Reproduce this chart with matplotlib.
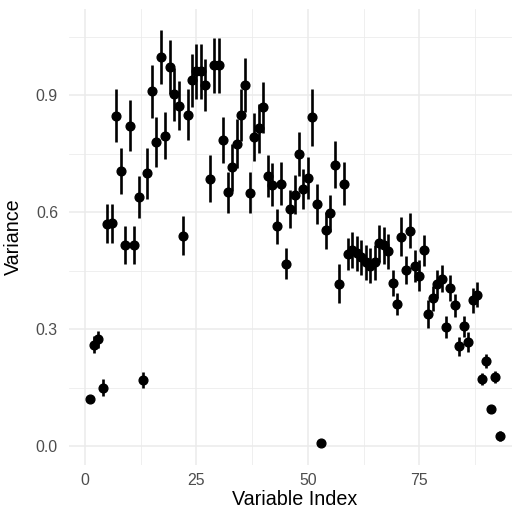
import numpy as np
import matplotlib
matplotlib.use("Agg")
import matplotlib.pyplot as plt
from matplotlib.ticker import MultipleLocator

# ── Data: per-variable variance estimates and their error half-widths ────────
variance = [
    0.121, 0.260, 0.274, 0.150, 0.570, 0.572, 0.848, 0.706, 0.515, 0.822,
    0.516, 0.639, 0.170, 0.700, 0.910, 0.780, 0.998, 0.796, 0.972, 0.902,
    0.873, 0.540, 0.850, 0.939, 0.961, 0.961, 0.927, 0.686, 0.977, 0.977,
    0.785, 0.651, 0.715, 0.776, 0.849, 0.926, 0.650, 0.793, 0.815, 0.869,
    0.693, 0.671, 0.564, 0.673, 0.468, 0.609, 0.645, 0.749, 0.660, 0.688,
    0.843, 0.621, 0.008, 0.554, 0.597, 0.722, 0.417, 0.673, 0.493, 0.503,
    0.495, 0.485, 0.472, 0.463, 0.472, 0.520, 0.515, 0.500, 0.418, 0.364,
    0.537, 0.452, 0.553, 0.462, 0.437, 0.502, 0.339, 0.379, 0.416, 0.430,
    0.305, 0.406, 0.361, 0.256, 0.307, 0.267, 0.374, 0.389, 0.172, 0.219,
    0.096, 0.177, 0.026,
]
half_width = [
    0.008, 0.022, 0.022, 0.022, 0.050, 0.050, 0.068, 0.059, 0.049, 0.065,
    0.048, 0.054, 0.020, 0.065, 0.068, 0.063, 0.070, 0.060, 0.070, 0.067,
    0.063, 0.050, 0.066, 0.068, 0.070, 0.070, 0.067, 0.060, 0.070, 0.070,
    0.060, 0.053, 0.060, 0.063, 0.066, 0.070, 0.052, 0.061, 0.062, 0.065,
    0.055, 0.055, 0.045, 0.055, 0.040, 0.049, 0.050, 0.057, 0.052, 0.054,
    0.072, 0.051, 0.003, 0.047, 0.047, 0.061, 0.049, 0.055, 0.042, 0.047,
    0.045, 0.045, 0.045, 0.045, 0.045, 0.047, 0.047, 0.045, 0.034, 0.028,
    0.050, 0.035, 0.045, 0.040, 0.040, 0.040, 0.036, 0.032, 0.035, 0.035,
    0.028, 0.033, 0.030, 0.025, 0.028, 0.025, 0.032, 0.033, 0.015, 0.018,
    0.010, 0.015, 0.012,
]
index = np.arange(1, len(variance) + 1)

x_ticks = [0, 25, 50, 75]
y_ticks = [0.0, 0.3, 0.6, 0.9]

# ── Figure ────────────────────────────────────────────────────────────────────
plt.rcParams["font.family"] = ["Liberation Sans", "DejaVu Sans"]

W, H = 512, 517
fig = plt.figure(figsize=(W / 100, H / 100), dpi=100)
fig.patch.set_facecolor("white")

left, right, top, bottom = 69, 520, 9, 465
ax = fig.add_axes([left / W, (H - bottom) / H, (right - left) / W, (bottom - top) / H])
ax.set_facecolor("white")

ax.errorbar(index, variance, yerr=half_width, fmt="o", color="black",
            ms=6.3, elinewidth=1.9, capsize=0, zorder=3)

# Range padded the way ggplot expands a continuous scale
lo = min(v - e for v, e in zip(variance, half_width))
hi = max(v + e for v, e in zip(variance, half_width))
pad_y = 0.05 * (hi - lo)
pad_x = 0.05 * (index.max() - index.min())
ax.set_xlim(index.min() - pad_x, index.max() + pad_x)
ax.set_ylim(lo - pad_y, hi + pad_y)

ax.set_xticks(x_ticks)
ax.set_yticks(y_ticks)
ax.set_yticklabels([f"{t:.1f}" for t in y_ticks])
ax.xaxis.set_minor_locator(MultipleLocator(12.5))
ax.yaxis.set_minor_locator(MultipleLocator(0.15))

ax.grid(which="major", color="#EBEBEB", linewidth=1.1, zorder=0)
ax.grid(which="minor", color="#EBEBEB", linewidth=0.55, zorder=0)
ax.set_axisbelow(True)
for s in ax.spines.values():
    s.set_visible(False)

ax.tick_params(which="both", length=0)
ax.tick_params(axis="x", labelsize=11.4, labelcolor="#4D4D4D", pad=6)
ax.tick_params(axis="y", labelsize=11.4, labelcolor="#4D4D4D", pad=8)

ax.set_xlabel("Variable Index", fontsize=14.2, color="black", labelpad=1)
ax.set_ylabel("Variance", fontsize=14.2, color="black", labelpad=9)

plt.savefig("out.png", dpi=100, facecolor="white")
